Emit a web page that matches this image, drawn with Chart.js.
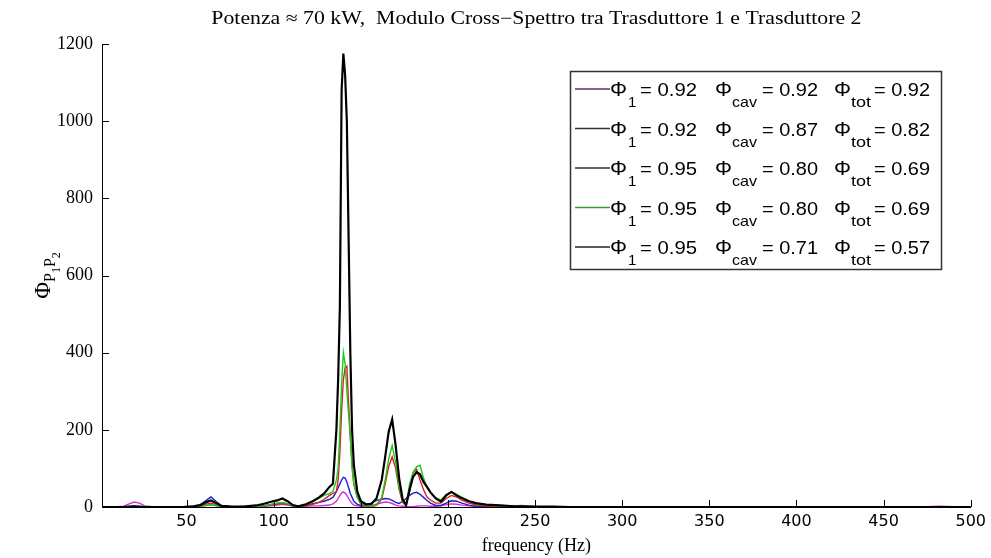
<!DOCTYPE html>
<html><head><meta charset="utf-8">
<script src="https://cdn.jsdelivr.net/npm/chart.js@4.4.1/dist/chart.umd.min.js"></script>
<style>html,body{margin:0;padding:0;background:#fff;}#wrap{width:991px;height:558px;}</style>
</head><body><div id="wrap"><canvas id="c" width="991" height="558"></canvas></div>
<script>
// frequency (Hz)
const freq = [2,8,14,17,20,23,26,32,40,48,
  54,58,61,64,67,70,76,84,90,95,
  98,102,105,108,111,114,118,122,126,129,
  132,134,136,137,138,139,140,141,142,143,
  144,145,146,148,150,153,156,159,162,164,
  166,168,170,172,174,176,178,180,182,184,
  186,188,190,193,196,199,202,205,208,212,
  216,222,230,238,242,250,260,270,300,350,
  400,450,475,482,490,500];
const magentaVals = [0,0,2,8,13,10,3,0,0,0,
  0,1,4,6,3,1,0,2,1,2,
  3,5,7,5,2,1,2,3,3,4,
  5,8,15,22,30,36,39,36,30,22,
  15,9,5,3,2,2,4,7,11,13,
  12,9,5,3,2,1,1,1,2,3,
  3,3,2,2,3,6,8,7,5,3,
  2,1,1,3,4,1,0,0,0,0,
  0,0,1,2,1,0];
const blueVals = [0,0,0,1,2,1,0,0,0,1,
  2,6,16,26,14,4,1,1,2,4,
  6,9,11,8,4,2,4,8,12,15,
  20,25,40,50,60,70,77,75,65,50,
  35,25,15,7,4,5,10,17,20,22,
  21,17,12,9,15,22,30,36,38,33,
  25,17,10,4,4,10,16,15,10,5,
  2,1,0,0,1,0,0,0,0,0,
  0,0,0,0,0,0];
const redVals = [0,0,0,1,1,1,0,0,0,0,
  1,3,7,10,6,2,0,1,1,3,
  5,7,9,6,3,1,3,6,12,20,
  30,35,40,70,140,250,330,360,365,270,
  180,110,60,25,8,2,1,4,20,60,
  105,130,100,45,12,3,40,88,98,70,
  45,26,18,10,10,22,30,26,18,10,
  6,3,2,1,1,0,0,0,0,0,
  0,0,0,0,0,0];
const greenVals = [0,0,0,0,1,0,0,0,0,0,
  1,2,4,6,4,1,0,1,2,3,
  6,10,12,8,4,2,5,12,22,30,
  35,40,70,100,200,320,400,370,300,240,
  180,100,60,25,10,3,2,6,25,70,
  125,160,115,50,15,4,60,90,104,108,
  75,50,38,24,18,32,40,33,25,16,
  10,5,3,2,2,1,0.5,0,0,0,
  0,0,0,0,0,0];
const blackVals = [0,0,0,1,2,1,0,0,0,0,
  2,5,12,17,10,3,1,2,4,9,
  13,17,22,15,5,2,6,14,25,35,
  52,60,200,330,520,1080,1175,1120,1000,700,
  400,200,110,40,15,7,8,22,70,130,
  195,227,160,75,20,5,45,78,90,85,
  65,52,38,22,14,30,39,30,23,15,
  10,6,4,2,2,1,1,0,0,0,
  0,0,0,0,0,0];
// legend values
const phi1 = ['0.92','0.92','0.95','0.95','0.95'];
const phiCav = ['0.92','0.87','0.80','0.80','0.71'];
const phiTot = ['0.92','0.82','0.69','0.69','0.57'];
const xTicks = [50,100,150,200,250,300,350,400,450,500];
const yTicks = [0,200,400,600,800,1000,1200];
const titleText = 'Potenza \u2248 70 kW,  Modulo Cross\u2212Spettro tra Trasduttore 1 e Trasduttore 2';

const seriesVals = [magentaVals, blueVals, redVals, greenVals, blackVals];
const seriesColors = ['#d42fd4', '#1f1fc8', '#e02020', '#1ec81e', '#000000'];
const seriesWidths = [1.4, 1.4, 1.4, 1.4, 2.2];
const legendLineColors = ['#6e2a6e', '#33333d', '#3b2c2c', '#3a9a3a', '#222222'];

const datasets = seriesVals.map((vals, i) => ({
  data: freq.map((f, j) => ({x: f, y: vals[j]})),
  borderColor: seriesColors[i],
  borderWidth: seriesWidths[i],
  pointRadius: 0,
  tension: 0,
  fill: false,
  order: 5 - i
}));

const decor = {
  id: 'decor',
  afterDraw(chart) {
    const ctx = chart.ctx;
    const ca = chart.chartArea;
    const xs = chart.scales.x, ys = chart.scales.y;
    ctx.save();
    // inward ticks
    ctx.strokeStyle = '#000';
    ctx.lineWidth = 1;
    ctx.beginPath();
    yTicks.forEach(v => {
      const y = Math.round(ys.getPixelForValue(v)) + 0.5;
      ctx.moveTo(ca.left, y); ctx.lineTo(ca.left + 7, y);
    });
    xTicks.forEach(v => {
      const x = Math.round(xs.getPixelForValue(v)) + 0.5;
      ctx.moveTo(x, ca.bottom); ctx.lineTo(x, ca.bottom - 7);
    });
    ctx.stroke();

    // title
    ctx.fillStyle = '#000';
    ctx.font = '18px "Liberation Serif"';
    ctx.textBaseline = 'alphabetic';
    ctx.textAlign = 'center';
    const tw = ctx.measureText(titleText).width;
    ctx.save();
    ctx.translate((ca.left + ca.right) / 2, 24);
    ctx.scale(650 / tw, 1);
    ctx.fillText(titleText, 0, 0);
    ctx.restore();

    // y axis label  Φ_{P1 P2}
    ctx.save();
    ctx.translate(50, (ca.top + ca.bottom) / 2);
    ctx.rotate(-Math.PI / 2);
    ctx.textAlign = 'left';
    const parts = [
      {t: '\u03A6', f: '23px "Liberation Serif"', dy: 0},
      {t: 'P', f: '16px "Liberation Serif"', dy: 5},
      {t: '1', f: '12px "Liberation Serif"', dy: 10},
      {t: 'P', f: '16px "Liberation Serif"', dy: 5},
      {t: '2', f: '12px "Liberation Serif"', dy: 10}
    ];
    let total = 0;
    parts.forEach(p => { ctx.font = p.f; p.w = ctx.measureText(p.t).width; total += p.w; });
    let px = -total / 2;
    parts.forEach(p => { ctx.font = p.f; ctx.fillText(p.t, px, p.dy); px += p.w; });
    ctx.restore();

    // legend box
    const lx = 570, ly = 71, lw = 371, lh = 198;
    ctx.fillStyle = '#fff';
    ctx.fillRect(lx, ly, lw, lh);
    ctx.strokeStyle = '#333';
    ctx.lineWidth = 1.5;
    ctx.strokeRect(lx + 0.5, ly + 0.5, lw, lh);
    ctx.textAlign = 'left';
    for (let i = 0; i < 5; i++) {
      const yl = 89 + i * 39.5;
      ctx.strokeStyle = legendLineColors[i];
      ctx.lineWidth = 1.3;
      ctx.beginPath(); ctx.moveTo(575, yl); ctx.lineTo(610, yl); ctx.stroke();
      ctx.fillStyle = '#000';
      const base = yl + 7;
      const big = '19px "Liberation Sans"', phiF = '20px "Liberation Sans"', small = '15px "Liberation Sans"';
      const pieces = [
        [610, '\u03A6', phiF, 0, 17], [628, '1', small, 11, 0], [640, '= ' + phi1[i], big, 0, 57],
        [715, '\u03A6', phiF, 0, 17], [732, 'cav', small, 11, 25], [762, '= ' + phiCav[i], big, 0, 56],
        [834, '\u03A6', phiF, 0, 17], [851, 'tot', small, 11, 20], [874, '= ' + phiTot[i], big, 0, 56]
      ];
      pieces.forEach(([x, t, f, dy, tw2]) => {
        ctx.font = f;
        const w = ctx.measureText(t).width;
        ctx.save();
        ctx.translate(x, base + dy);
        if (tw2) ctx.scale(tw2 / w, 1);
        ctx.fillText(t, 0, 0);
        ctx.restore();
      });
    }
    ctx.restore();
  }
};

new Chart(document.getElementById('c'), {
  type: 'line',
  data: { datasets },
  options: {
    responsive: false,
    animation: false,
    devicePixelRatio: 1,
    layout: { padding: { top: 44, right: 20, left: 0, bottom: 0 } },
    plugins: { legend: { display: false }, tooltip: { enabled: false }, title: { display: false } },
    scales: {
      x: {
        type: 'linear', min: 1.5, max: 500,
        afterBuildTicks: s => { s.ticks = xTicks.map(v => ({value: v})); },
        afterFit: s => { s.height = 51; },
        ticks: { color: '#000', font: { family: 'DejaVu Sans', size: 16 }, padding: 5, maxRotation: 0,
                 callback: v => String(v) },
        grid: { display: false, drawTicks: false },
        border: { display: true, color: '#000', width: 1 },
        title: { display: true, text: 'frequency (Hz)', color: '#000',
                 font: { family: 'Liberation Serif', size: 18 }, padding: { top: 0, bottom: 1 } }
      },
      y: {
        min: 0, max: 1200,
        afterBuildTicks: s => { s.ticks = yTicks.map(v => ({value: v})); },
        afterFit: s => { s.width = 102; },
        ticks: { color: '#000', font: { family: 'Liberation Serif', size: 18 }, padding: 9,
                 callback: v => String(v) },
        grid: { display: false, drawTicks: false },
        border: { display: true, color: '#000', width: 1 }
      }
    }
  },
  plugins: [decor]
});
</script></body></html>
